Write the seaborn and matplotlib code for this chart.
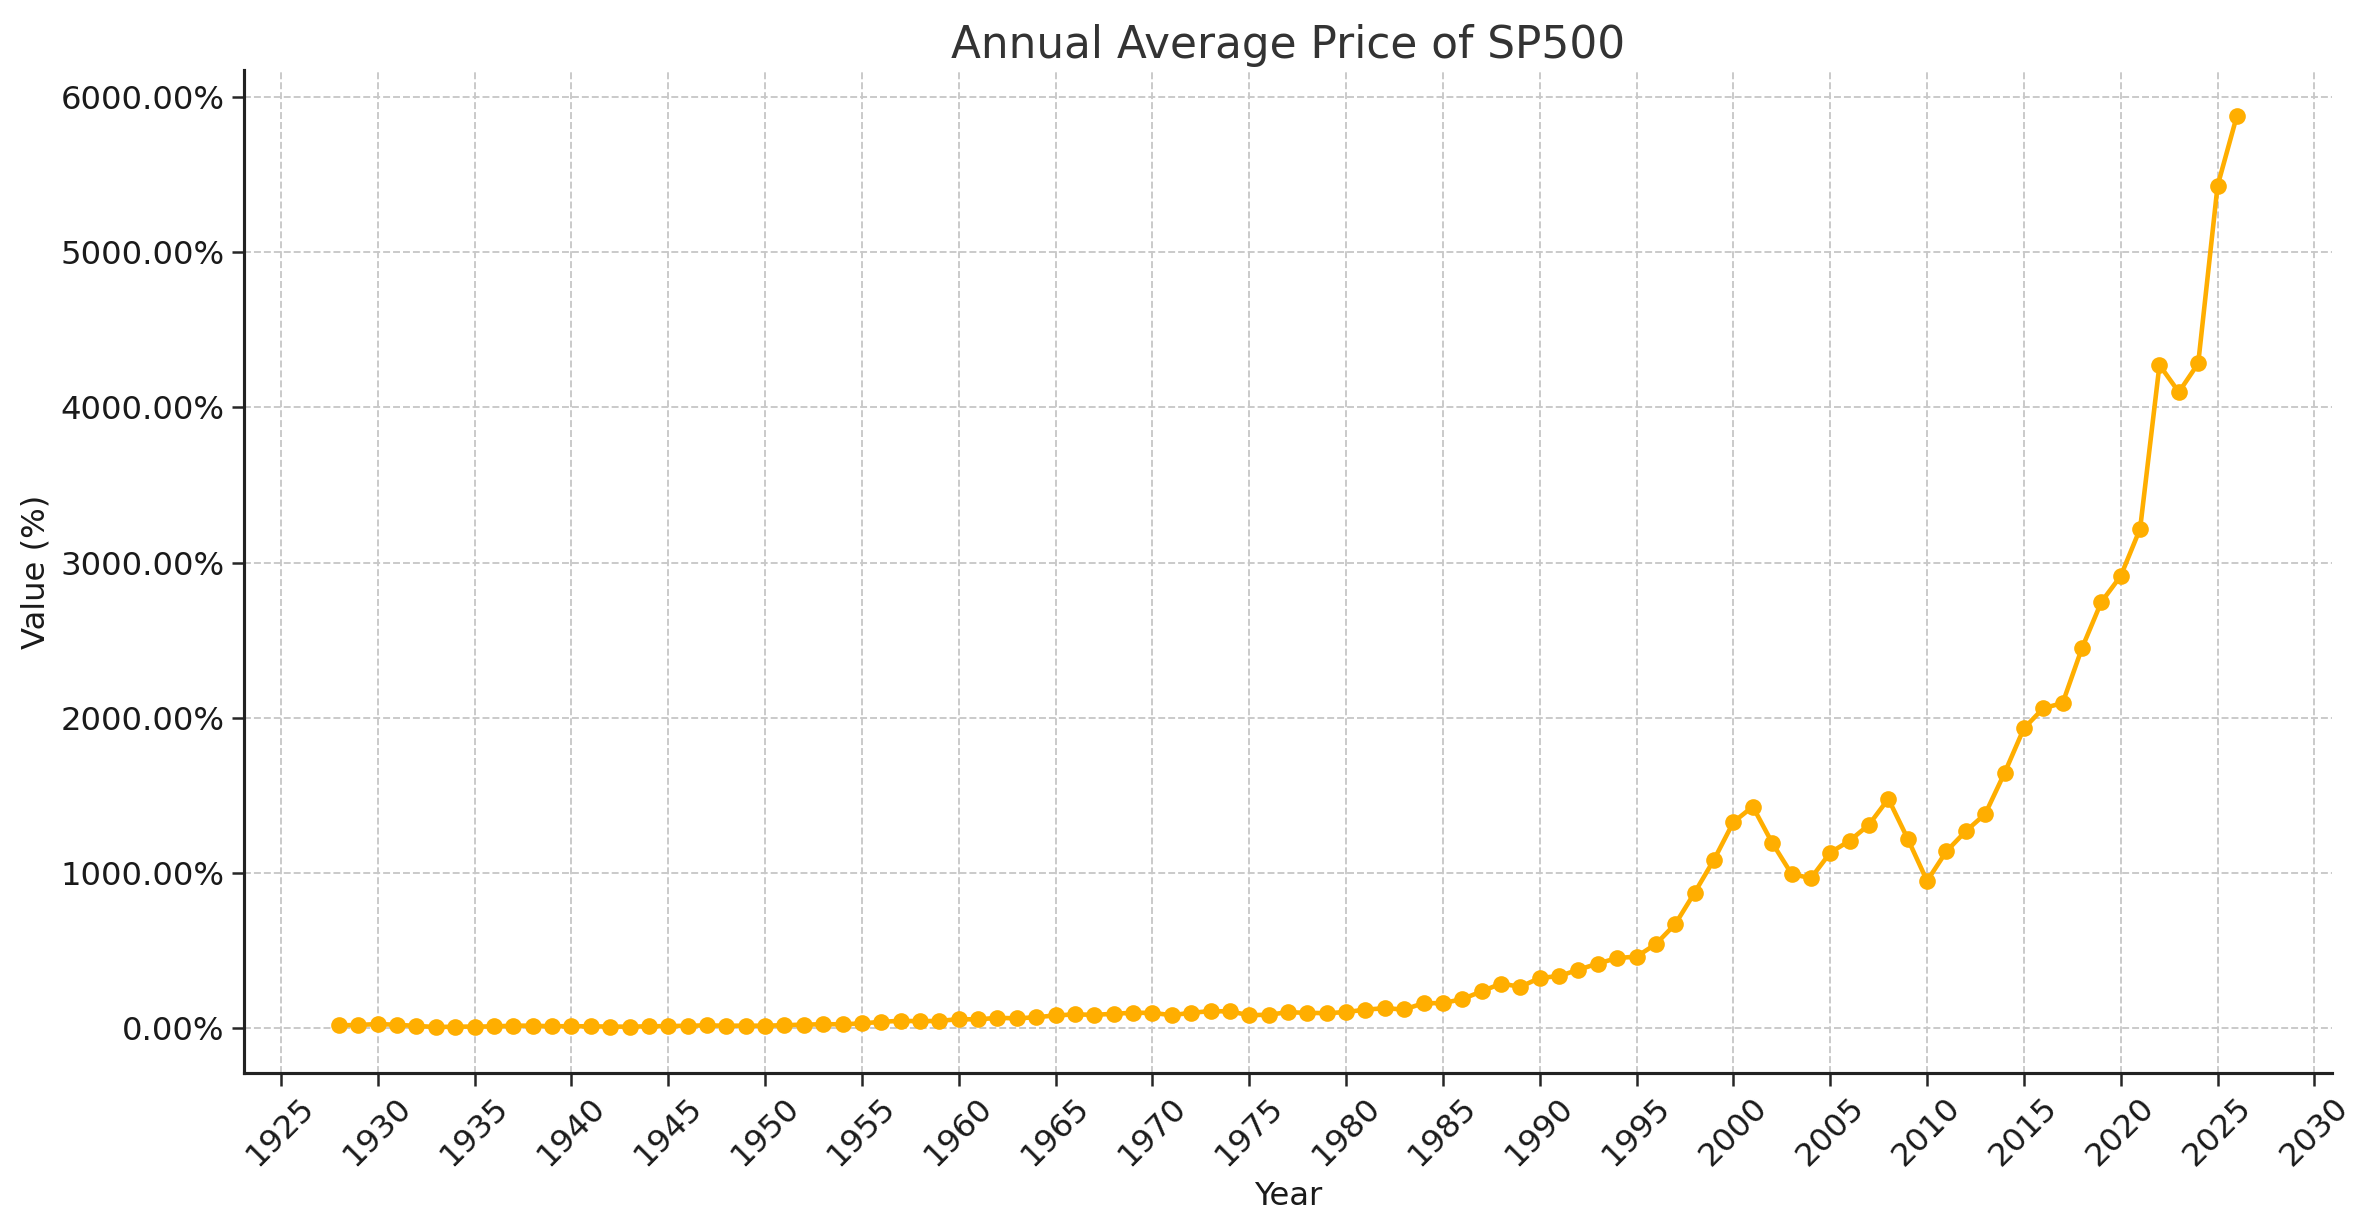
import numpy as np
import pandas as pd
import seaborn as sns
import matplotlib
matplotlib.use('Agg')
import matplotlib.pyplot as plt
from matplotlib.ticker import FuncFormatter, MultipleLocator

# plotted years and annual average values
years = list(range(1928, 2027))
values = [
    17.7, 19.9, 26.0, 21.0, 13.7, 6.9, 8.9, 9.8, 10.6, 15.5,
    15.4, 11.5, 12.1, 11.0, 9.8, 8.7, 11.5, 12.5, 15.2, 17.1,
    15.2, 15.5, 15.2, 18.4, 22.3, 24.5, 24.7, 29.7, 40.5, 46.6,
    44.4, 46.2, 57.4, 55.8, 66.3, 62.4, 69.9, 81.4, 88.2, 85.3,
    91.9, 98.7, 97.8, 83.2, 98.3, 109.2, 107.4, 82.8, 86.2, 102.0,
    98.2, 96.0, 103.0, 118.8, 128.0, 119.7, 160.4, 160.5, 186.8, 236.3,
    286.8, 265.8, 323.1, 335.0, 376.2, 415.7, 451.4, 460.4, 541.7, 670.5,
    873.4, 1085.5, 1327.3, 1427.2, 1194.2, 993.9, 965.2, 1130.6, 1207.2, 1310.5,
    1477.2, 1220.0, 948.1, 1139.3, 1268.9, 1379.4, 1643.8, 1931.4, 2061.1, 2094.7,
    2449.1, 2746.2, 2913.4, 3217.9, 4273.4, 4098.5, 4283.7, 5428.2, 5880.0,
]

df = pd.DataFrame({'Year': years, 'Value': values})

sns.set_style('ticks')
plt.rcParams['font.family'] = ['DejaVu Sans']

fig = plt.figure(figsize=(2377 / 150, 1230 / 150), dpi=150)
ax = fig.add_axes([0.1027, 0.128, 0.8783, 0.815])

line_color = '#FFAE00'
sns.lineplot(data=df, x='Year', y='Value', ax=ax, color=line_color,
             marker='o', markersize=8, markeredgewidth=0, linewidth=2.2)

ax.grid(True, linestyle='--', color='#c8c8c8', linewidth=0.9)
ax.xaxis.set_major_locator(MultipleLocator(5))
ax.yaxis.set_major_locator(MultipleLocator(1000))
ax.yaxis.set_major_formatter(FuncFormatter(lambda v, p: '{:.2f}%'.format(v)))
ax.tick_params(axis='x', labelsize=15.5, rotation=45, length=6, width=1.2,
               labelcolor='#1a1a1a')
ax.tick_params(axis='y', labelsize=15.5, length=6, width=1.2,
               labelcolor='#1a1a1a')
for lab in ax.get_xticklabels():
    lab.set_horizontalalignment('center')

ax.set_title('Annual Average Price of SP500', fontsize=21, color='#333333')
ax.set_xlabel('Year', fontsize=15.5, color='#1a1a1a')
ax.set_ylabel('Value (%)', fontsize=15.5, color='#1a1a1a')

sns.despine(ax=ax)
for s in ['left', 'bottom']:
    ax.spines[s].set_linewidth(1.5)
    ax.spines[s].set_color('#222222')

fig.savefig('out.png', dpi=150)
